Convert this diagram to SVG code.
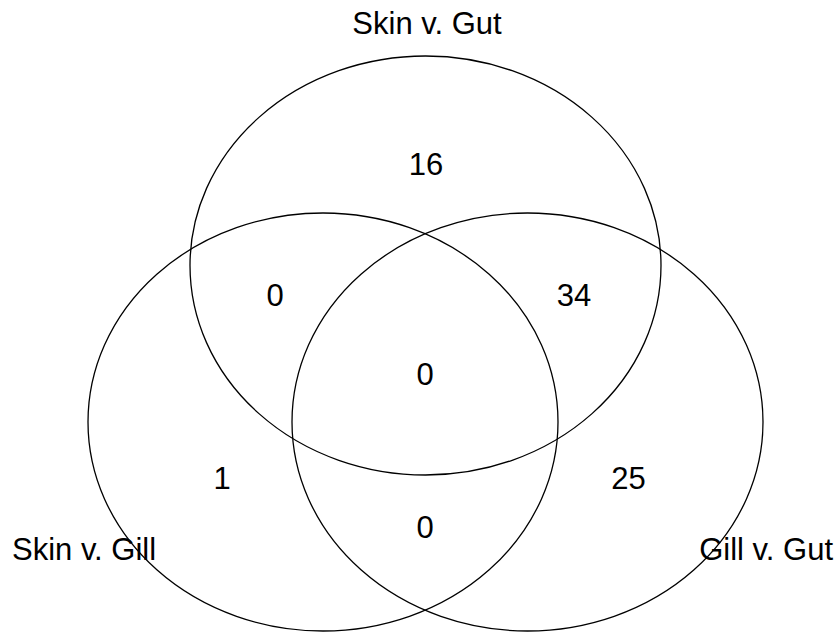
<svg xmlns="http://www.w3.org/2000/svg" width="840" height="634" viewBox="0 0 840 634">
<style>
.set{fill:none;stroke:#000;stroke-width:1.3}
.t{font-family:"Liberation Sans",Arial,sans-serif;font-size:31px;fill:#000}
.m{text-anchor:middle}
</style>
<rect width="840" height="634" fill="#fff"/>
<g id="sets">
<g id="set-skin-gut"><ellipse class="set" cx="425.5" cy="265.5" rx="235.5" ry="209.5"/><text class="t m" x="427" y="34">Skin v. Gut</text></g>
<g id="set-skin-gill"><ellipse class="set" cx="323" cy="422" rx="235" ry="209"/><text class="t" x="12" y="560">Skin v. Gill</text></g>
<g id="set-gill-gut"><ellipse class="set" cx="527.5" cy="422" rx="235.5" ry="209"/><text class="t" x="833" y="560" text-anchor="end">Gill v. Gut</text></g>
</g>
<g id="counts">
<text class="t m" x="426" y="175">16</text>
<text class="t m" x="275" y="306">0</text>
<text class="t m" x="574" y="306">34</text>
<text class="t m" x="425" y="385">0</text>
<text class="t m" x="222" y="489">1</text>
<text class="t m" x="628.5" y="489">25</text>
<text class="t m" x="425" y="538">0</text>
</g>
</svg>
